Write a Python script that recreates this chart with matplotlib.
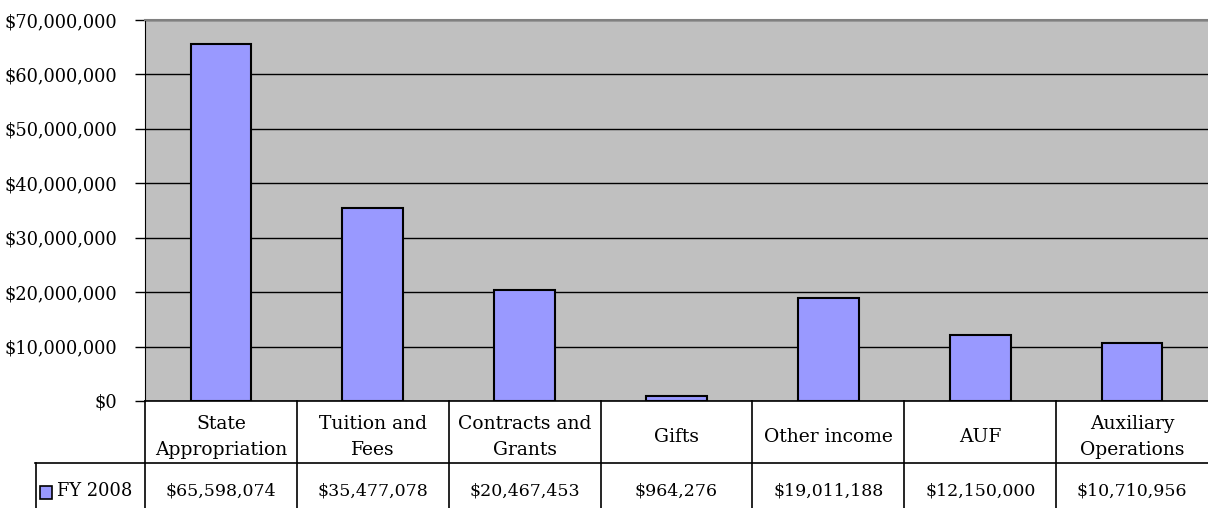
import matplotlib
matplotlib.use("Agg")
import matplotlib.pyplot as plt
from matplotlib.transforms import blended_transform_factory
from matplotlib.patches import Rectangle
from matplotlib.ticker import FuncFormatter

plt.rcParams['font.family'] = ['DejaVu Serif']

categories = ["State\nAppropriation", "Tuition and\nFees", "Contracts and\nGrants", "Gifts",
              "Other income", "AUF", "Auxiliary\nOperations"]
values = [65598074, 35477078, 20467453, 964276, 19011188, 12150000, 10710956]
series_name = "FY 2008"
yticks = [0, 10000000, 20000000, 30000000, 40000000, 50000000, 60000000, 70000000]

W, H = 1208, 508
fig = plt.figure(figsize=(W/100, H/100), dpi=100)
ax = fig.add_axes([145/W, 1-401/H, (1208-145)/W, (401-20)/H])
ax.set_facecolor('#C0C0C0')
x = list(range(len(values)))
ax.bar(x, values, width=0.4, color='#9999FF', edgecolor='black', linewidth=1.5, zorder=3)
ax.set_xlim(-0.5, len(values)-0.5)
ax.set_ylim(0, 70000000)
ax.set_yticks(yticks)
ax.yaxis.set_major_formatter(FuncFormatter(lambda v, p: "${:,.0f}".format(v)))
ax.grid(axis='y', color='black', linewidth=1, zorder=1)
ax.set_xticks([])
ax.tick_params(axis='y', length=7, width=1, labelsize=12.8, pad=13, color='black')
for s in ['right', 'bottom']:
    ax.spines[s].set_visible(False)
ax.spines['top'].set_color('#808080')
ax.spines['top'].set_linewidth(1.5)
ax.spines['left'].set_color('black')

# data table
tr = blended_transform_factory(ax.transData, fig.transFigure)
y_top = 1-401/H
y_mid = 1-463/H
y_bot = 0.0
lw = 1.2
bounds = [i-0.5 for i in range(len(values))]
for b in bounds:
    ax.plot([b, b], [y_top, y_bot], transform=tr, color='black', lw=lw, clip_on=False)
ax.plot([-0.5, len(values)-0.5], [y_top, y_top], transform=tr, color='black', lw=lw, clip_on=False)
fig.add_artist(plt.Line2D([35/W, 1.0], [y_mid, y_mid], color='black', lw=lw))
fig.add_artist(plt.Line2D([35.5/W, 35.5/W], [y_mid, y_bot], color='black', lw=lw))
for i, (c, v) in enumerate(zip(categories, values)):
    ax.text(i, 1-437/H, c, transform=tr, ha='center', va='center', fontsize=13.5,
            linespacing=1.6)
    ax.text(i, 1-491/H, "${:,.0f}".format(v), transform=tr, ha='center', va='center',
            fontsize=12.5)
fig.add_artist(Rectangle((40/W, 1-499/H), 12/W, 13/H, facecolor='#9999FF', edgecolor='black',
                         lw=1.2, transform=fig.transFigure))
fig.text(57/W, 1-491/H, series_name, ha='left', va='center', fontsize=12.9)

fig.savefig("out.png", dpi=100)
